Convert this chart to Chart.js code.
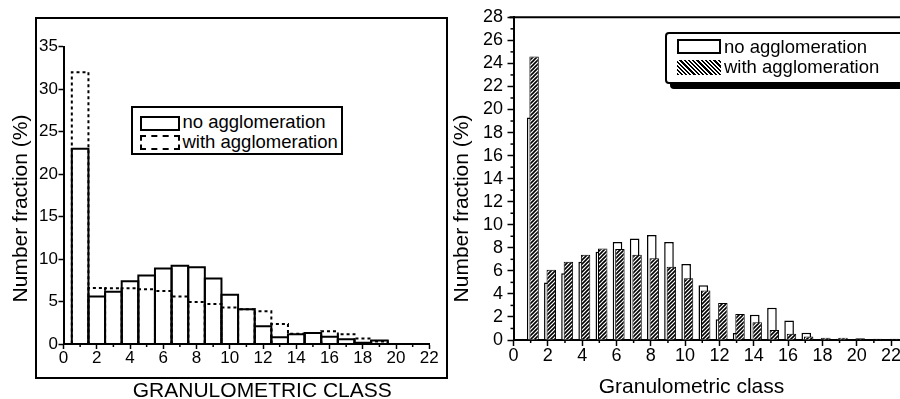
<!DOCTYPE html>
<html><head><meta charset="utf-8">
<script src="https://cdn.jsdelivr.net/npm/chart.js@4.4.1/dist/chart.umd.min.js"></script>
<style>
html,body{margin:0;padding:0;background:#fff;overflow:hidden}
#wrap{position:relative;width:900px;height:399px;overflow:hidden;font-family:"Liberation Sans",Arial,sans-serif;color:#000}
canvas{position:absolute;top:0}
#c1{left:0}
#c2{left:450px}
.box{position:absolute;box-sizing:border-box;background:#fff;border:2px solid #000}
.sw{position:absolute;box-sizing:border-box}
.lbl{position:absolute;font-size:18.5px;line-height:18px;white-space:nowrap}
</style></head>
<body><div id="wrap">
<canvas id="c1" width="450" height="399"></canvas>
<canvas id="c2" width="470" height="399"></canvas>

<div class="box" style="left:131px;top:106px;width:212px;height:49px"></div>
<div class="sw" style="left:140px;top:116px;width:40px;height:14.5px;border:2px solid #000"></div>
<div class="lbl" style="left:182.5px;top:113px">no agglomeration</div>
<div class="sw" style="left:140px;top:135px;width:40px;height:15px;border:2px dashed #000"></div>
<div class="lbl" style="left:182.5px;top:132.5px">with agglomeration</div>

<div class="box" style="left:665px;top:31.5px;width:420px;height:52px;border-radius:4px;box-shadow:5px 5px 0 #000"></div>
<div class="sw" style="left:676.5px;top:39px;width:44px;height:14.5px;border:2px solid #000;background:#fff"></div>
<div class="lbl" style="left:724px;top:37.5px">no agglomeration</div>
<div class="sw" style="left:676.5px;top:59.5px;width:44px;height:15.5px;background:repeating-linear-gradient(45deg,#000 0 1.5px,#fff 1.5px 3px)"></div>
<div class="lbl" style="left:724px;top:58px">with agglomeration</div>
</div>
<script>
// ---------- data ----------
const leftClasses = [1,2,3,4,5,6,7,8,9,10,11,12,13,14,15,16,17,18,19];
const leftNoAgg   = [23.0,5.6,6.15,7.4,8.05,8.9,9.2,9.05,7.7,5.8,4.1,2.1,0.8,1.15,1.3,0.85,0.55,0.15,0.4];
const leftWithAgg = [32.0,6.6,6.55,6.55,6.45,6.25,5.6,4.95,4.7,4.3,4.1,3.85,2.35,1.2,1.3,1.5,1.15,0.65,0.3];

const rightClasses = [1,2,3,4,5,6,7,8,9,10,11,12,13,14,15,16,17,18,19,20,21,22];
const rightNoAgg   = [19.3,5.0,5.8,6.8,7.65,8.5,8.8,9.1,8.5,6.6,4.75,1.8,0.6,2.2,2.8,1.7,0.62,0.1,0.1,0,0,0];
const rightWithAgg = [24.6,6.1,6.8,7.4,7.95,7.9,7.4,7.1,6.35,5.35,4.3,3.2,2.25,1.55,0.87,0.55,0.3,0.2,0.2,0.15,0.1,0.1];

const leftXTicks  = [0,2,4,6,8,10,12,14,16,18,20,22];
const leftYTicks  = [0,5,10,15,20,25,30,35];
const leftXMinor  = [1,3,5,7,9,11,13,15,17,19,21];
const rightXTicks = [0,2,4,6,8,10,12,14,16,18,20,22];
const rightYTicks = [0,2,4,6,8,10,12,14,16,18,20,22,24,26,28];
const rightXMinor = [1,3,5,7,9,11,13,15,17,19,21];
const rightYMinor = [1,3,5,7,9,11,13,15,17,19,21,23,25,27];

const legendLabels = ['no agglomeration','with agglomeration'];
const yTitle = 'Number fraction (%)';
const leftXTitle = 'GRANULOMETRIC CLASS';
const rightXTitle = 'Granulometric class';

// ---------- helpers ----------
const FAM = "'Liberation Sans', Arial, sans-serif";
Chart.defaults.font.family = FAM;
Chart.defaults.color = '#000';

function pts(xs, ys){ return xs.map((x,i)=>({x:x, y:ys[i]})); }

const outlinePlugin = {
  id: 'barOutline',
  afterDatasetsDraw(chart){
    const ctx = chart.ctx;
    chart.data.datasets.forEach((ds,i)=>{
      if(!ds.outline) return;
      const meta = chart.getDatasetMeta(i);
      ctx.save();
      ctx.strokeStyle = '#000';
      ctx.lineWidth = ds.outline.width;
      ctx.setLineDash(ds.outline.dash);
      meta.data.forEach(el=>{
        const p = el.getProps(['x','y','base','width'], true);
        if (Math.abs(p.base - p.y) < 0.3) return;
        const l = p.x - p.width/2, r = p.x + p.width/2;
        ctx.beginPath();
        ctx.moveTo(l, p.base); ctx.lineTo(l, p.y); ctx.lineTo(r, p.y); ctx.lineTo(r, p.base);
        ctx.stroke();
      });
      ctx.restore();
    });
  }
};

function decor(cfg){
  return {
    id: 'decor',
    afterDraw(chart){
      const ctx = chart.ctx, ca = chart.chartArea;
      ctx.save();
      ctx.strokeStyle = '#000';
      ctx.setLineDash([]);
      (cfg.minor||[]).forEach(m=>{
        const s = chart.scales[m.scale];
        ctx.lineWidth = 1.5;
        m.values.forEach(v=>{
          const p = s.getPixelForValue(v);
          ctx.beginPath();
          if (s.isHorizontal()) { ctx.moveTo(p, ca.bottom); ctx.lineTo(p, ca.bottom + m.len); }
          else { ctx.moveTo(ca.left, p); ctx.lineTo(ca.left - m.len, p); }
          ctx.stroke();
        });
      });
      if (cfg.frame){
        const f = cfg.frame;
        ctx.lineWidth = 2;
        ctx.strokeRect(f[0], f[1], f[2]-f[0], f[3]-f[1]);
      }
      if (cfg.topLine){
        ctx.lineWidth = 2;
        ctx.beginPath(); ctx.moveTo(ca.left - 4, ca.top); ctx.lineTo(chart.width, ca.top); ctx.stroke();
      }
      ctx.fillStyle = '#000';
      (cfg.titles||[]).forEach(t=>{
        ctx.save();
        ctx.font = t.size + 'px ' + FAM;
        ctx.textAlign = 'center';
        ctx.textBaseline = 'alphabetic';
        ctx.translate(t.x, t.y);
        if (t.rot) ctx.rotate(t.rot);
        ctx.fillText(t.text, 0, 0);
        ctx.restore();
      });
      ctx.restore();
    }
  };
}

function axisX(min, max, ticks, size, tl, pad, fitH){
  return {
    type:'linear', position:'bottom', min:min, max:max, offset:false,
    afterBuildTicks: s => { s.ticks = ticks.map(v=>({value:v})); },
    afterFit: s => { s.height = fitH; },
    grid:{display:true, drawOnChartArea:false, drawTicks:true, tickLength:tl, tickWidth:1.5, tickColor:'#000', offset:false},
    border:{display:true, color:'#000', width:2},
    ticks:{color:'#000', font:{size:size, lineHeight:1}, padding:pad, maxRotation:0, autoSkip:false}
  };
}
function axisY(min, max, ticks, size, tl, pad, fitW){
  return {
    type:'linear', position:'left', min:min, max:max,
    afterBuildTicks: s => { s.ticks = ticks.map(v=>({value:v})); },
    afterFit: s => { s.width = fitW; },
    grid:{display:true, drawOnChartArea:false, drawTicks:true, tickLength:tl, tickWidth:1.5, tickColor:'#000'},
    border:{display:true, color:'#000', width:2},
    ticks:{color:'#000', font:{size:size, lineHeight:1}, padding:pad, autoSkip:false}
  };
}

// ---------- left chart ----------
new Chart(document.getElementById('c1'), {
  type:'bar',
  data:{ datasets:[
    { label:legendLabels[0], data:pts(leftClasses,leftNoAgg), backgroundColor:'rgba(0,0,0,0)', borderWidth:0,
      barPercentage:1, categoryPercentage:1, grouped:false, outline:{width:2, dash:[]} },
    { label:legendLabels[1], data:pts(leftClasses,leftWithAgg), backgroundColor:'rgba(0,0,0,0)', borderWidth:0,
      barPercentage:1, categoryPercentage:1, grouped:false, outline:{width:2, dash:[3,3]} }
  ]},
  options:{
    responsive:false, animation:false, devicePixelRatio:1,
    layout:{padding:{left:0, top:46.7, right:20.7, bottom:0}},
    plugins:{legend:{display:false}, tooltip:{enabled:false}},
    scales:{
      x: axisX(0, 22, leftXTicks, 17, 5, 0.5, 55),
      y: axisY(0, 35, leftYTicks, 17, 5, 0.5, 63.5)
    }
  },
  plugins:[outlinePlugin, decor({
    minor:[{scale:'x', values:leftXMinor, len:3}],
    frame:[36, 18, 447, 378],
    titles:[
      {text:yTitle, x:27.3, y:208.5, rot:-Math.PI/2, size:21},
      {text:leftXTitle, x:262.3, y:396.5, size:21}
    ]
  })]
});

// ---------- right chart ----------
const c2 = document.getElementById('c2');
function hatchPattern(){
  const t = document.createElement('canvas'); t.width = 4; t.height = 4;
  const g = t.getContext('2d');
  g.fillStyle = '#fff'; g.fillRect(0,0,4,4);
  g.strokeStyle = '#000'; g.lineWidth = 1.6;
  g.beginPath();
  g.moveTo(0,4); g.lineTo(4,0);
  g.moveTo(-1,1); g.lineTo(1,-1);
  g.moveTo(3,5); g.lineTo(5,3);
  g.stroke();
  return c2.getContext('2d').createPattern(t, 'repeat');
}

new Chart(c2, {
  type:'bar',
  data:{ datasets:[
    { label:legendLabels[1], data:pts(rightClasses,rightWithAgg), xAxisID:'xh', order:0,
      backgroundColor:hatchPattern(), borderColor:'#000', borderWidth:1,
      barPercentage:0.55, categoryPercentage:1, grouped:false },
    { label:legendLabels[0], data:pts(rightClasses,rightNoAgg), xAxisID:'xw', order:1,
      backgroundColor:'#fff', borderColor:'#000', borderWidth:1.5,
      barPercentage:0.56, categoryPercentage:1, grouped:false }
  ]},
  options:{
    responsive:false, animation:false, devicePixelRatio:1,
    layout:{padding:{left:0, top:17.3, right:11.8, bottom:0}},
    plugins:{legend:{display:false}, tooltip:{enabled:false}},
    scales:{
      x: axisX(0, 23, rightXTicks, 18, 6, 1.5, 59),
      xw:{type:'linear', axis:'x', position:'bottom', display:false, min:-0.06, max:22.94, offset:false},
      xh:{type:'linear', axis:'x', position:'bottom', display:false, min:-0.2, max:22.8, offset:false},
      y: axisY(0, 28, rightYTicks, 18, 6, 4.5, 63.5)
    }
  },
  plugins:[decor({
    minor:[{scale:'x', values:rightXMinor, len:3}, {scale:'y', values:rightYMinor, len:3}],
    topLine:true,
    titles:[
      {text:yTitle, x:18.3, y:208.5, rot:-Math.PI/2, size:21},
      {text:rightXTitle, x:241.5, y:393.3, size:21}
    ]
  })]
});
</script>
</body></html>
